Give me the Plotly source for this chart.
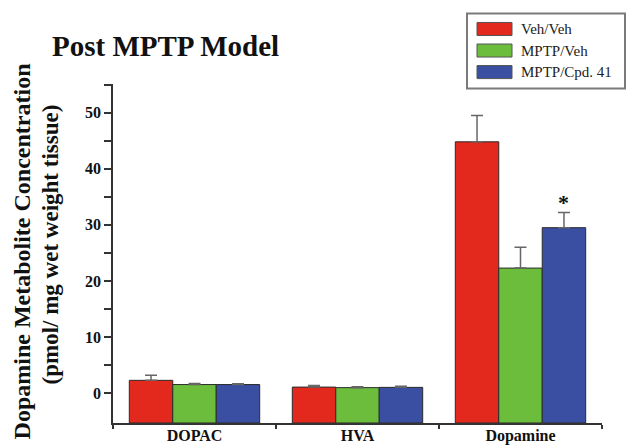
import plotly.graph_objects as go

# ---- data ----
categories = ["DOPAC", "HVA", "Dopamine"]
series_names = ["Veh/Veh", "MPTP/Veh", "MPTP/Cpd. 41"]
veh_veh = [2.3, 1.1, 44.8]
mptp_veh = [1.55, 1.0, 22.3]
mptp_cpd41 = [1.55, 1.05, 29.5]
veh_veh_err = [0.9, 0.3, 4.7]
mptp_veh_err = [0.2, 0.15, 3.7]
mptp_cpd41_err = [0.15, 0.2, 2.7]
y_tick_values = [0, 5, 10, 15, 20, 25, 30, 35, 40, 45, 50, 55]
y_tick_labels = ["0", "", "10", "", "20", "", "30", "", "40", "", "50", ""]

values = [veh_veh, mptp_veh, mptp_cpd41]
errors = [veh_veh_err, mptp_veh_err, mptp_cpd41_err]
colors = ["#e3281e", "#6cbd3c", "#3a4ea2"]

W, H = 629, 445
L, R, T, B = 113, 602, 84.4, 422.7
YMIN, YMAX = -5.3, 55.1

SERIF = "Liberation Serif, Times New Roman, serif"
AXIS_COLOR = "#333333"


def px(x):
    return (x - L) / (R - L)


def py(y):
    return (B - y) / (B - T)


fig = go.Figure()
for name, vals, errs, col in zip(series_names, values, errors, colors):
    fig.add_trace(go.Bar(
        name=name,
        x=categories,
        y=[v - YMIN for v in vals],
        base=YMIN,
        marker=dict(color=col, line=dict(color="#2b2b2b", width=1)),
        error_y=dict(type="data", symmetric=False, array=errs,
                     arrayminus=[0] * len(errs), color="#666666",
                     thickness=1.5, width=6),
        showlegend=False,
    ))

# significance marker above the treated dopamine bar
fig.add_annotation(
    x="Dopamine", y=mptp_cpd41[2] + mptp_cpd41_err[2],
    xref="x", yref="y", text="<b>*</b>", showarrow=False,
    xshift=43, yshift=-4, yanchor="bottom",
    font=dict(family=SERIF, size=22, color="#111111"),
)

# title
fig.add_annotation(
    x=px(50), y=py(46), xref="paper", yref="paper",
    text="<b>Post MPTP Model</b>", showarrow=False,
    xanchor="left", yanchor="middle",
    font=dict(family=SERIF, size=29, color="#111111"),
)

# y-axis title, two lines
fig.add_annotation(
    x=px(21.5), y=py(252), xref="paper", yref="paper",
    text="<b>Dopamine Metabolite Concentration</b>", showarrow=False,
    textangle=-90, xanchor="center", yanchor="middle",
    font=dict(family=SERIF, size=24, color="#111111"),
)
fig.add_annotation(
    x=px(50.5), y=py(245), xref="paper", yref="paper",
    text="<b>(pmol/ mg wet weight tissue)</b>", showarrow=False,
    textangle=-90, xanchor="center", yanchor="middle",
    font=dict(family=SERIF, size=23, color="#111111"),
)

# legend box
fig.add_shape(type="rect", xref="paper", yref="paper",
              x0=px(467), x1=px(625), y0=py(14), y1=py(89),
              line=dict(color="#7a7a7a", width=2), fillcolor="white")
for i, (name, col) in enumerate(zip(series_names, colors)):
    cy = 29.5 + i * 21.5
    fig.add_shape(type="rect", xref="paper", yref="paper",
                  x0=px(477), x1=px(512), y0=py(cy - 6.5), y1=py(cy + 6.5),
                  line=dict(color="#555555", width=1), fillcolor=col)
    fig.add_annotation(
        x=px(519), y=py(cy), xref="paper", yref="paper",
        text=name, showarrow=False, xanchor="left", yanchor="middle",
        font=dict(family=SERIF, size=15, color="#222222"),
    )

fig.update_layout(
    width=W, height=H,
    margin=dict(l=L, r=W - R, t=T, b=H - B, pad=0, autoexpand=False),
    paper_bgcolor="white", plot_bgcolor="white",
    barmode="group", bargap=0.2, bargroupgap=0,
    font=dict(family=SERIF, color="#111111"),
    xaxis=dict(
        type="category", tickson="boundaries", automargin=False,
        ticks="outside", ticklen=4, tickwidth=1.5, tickcolor=AXIS_COLOR,
        showline=True, linecolor=AXIS_COLOR, linewidth=1.5,
        showgrid=False, zeroline=False, ticklabelstandoff=-3,
        tickfont=dict(family=SERIF, size=16, color="#111111"),
        tickvals=categories,
        ticktext=["<b>%s</b>" % c for c in categories],
    ),
    yaxis=dict(
        range=[YMIN, YMAX], automargin=False,
        tickvals=y_tick_values,
        ticktext=["<b>%s</b>" % t if t else "" for t in y_tick_labels],
        ticks="outside", ticklen=7, tickwidth=1.5, tickcolor=AXIS_COLOR,
        showline=True, linecolor=AXIS_COLOR, linewidth=1.5,
        showgrid=False, zeroline=False,
        tickfont=dict(family=SERIF, size=16, color="#111111"),
    ),
)

fig.write_html("out.html")
